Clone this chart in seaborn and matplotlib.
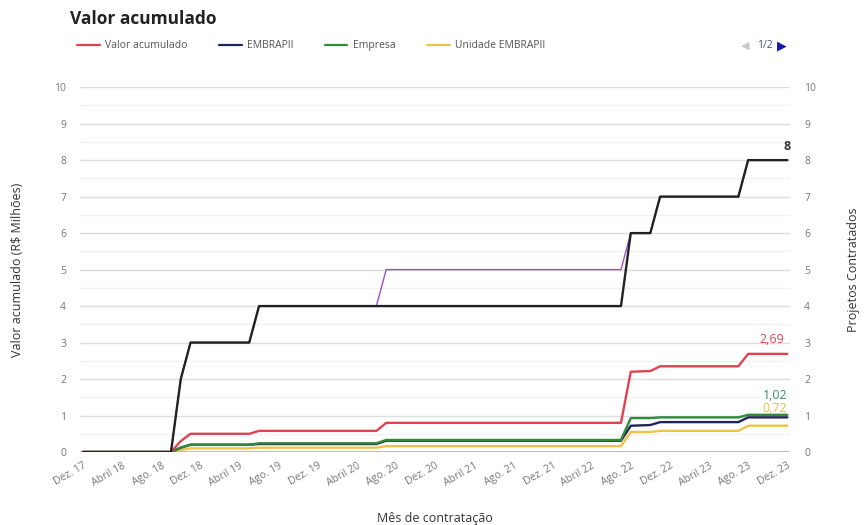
import matplotlib
matplotlib.use("Agg")
import matplotlib.pyplot as plt
import seaborn as sns
import pandas as pd
import numpy as np

# ---- data (change points, months) ----
change_months = ["2017-12", "2018-09", "2018-10", "2018-11", "2019-05", "2019-06",
                 "2020-06", "2020-07", "2022-07", "2022-08", "2022-10", "2022-11",
                 "2023-07", "2023-08", "2023-12"]
valor_acumulado = [0, 0, 0.30, 0.50, 0.50, 0.58, 0.58, 0.80, 0.80, 2.20, 2.22, 2.35, 2.35, 2.69, 2.69]
embrapii        = [0, 0, 0.12, 0.20, 0.20, 0.22, 0.22, 0.31, 0.31, 0.72, 0.74, 0.82, 0.82, 0.95, 0.95]
empresa         = [0, 0, 0.12, 0.20, 0.20, 0.24, 0.24, 0.33, 0.33, 0.93, 0.93, 0.95, 0.95, 1.02, 1.02]
unidade         = [0, 0, 0.06, 0.10, 0.10, 0.12, 0.12, 0.16, 0.16, 0.55, 0.55, 0.58, 0.58, 0.72, 0.72]
projetos        = [0, 0, 2, 3, 3, 4, 4, 4, 4, 6, 6, 7, 7, 8, 8]
projetos_b      = [0, 0, 2, 3, 3, 4, 4, 5, 5, 6, 6, 7, 7, 8, 8]

tick_labels = ["Dez. 17", "Abril 18", "Ago. 18", "Dez. 18", "Abril 19", "Ago. 19", "Dez. 19",
               "Abril 20", "Ago. 20", "Dez. 20", "Abril 21", "Ago. 21", "Dez. 21", "Abril 22",
               "Ago. 22", "Dez. 22", "Abril 23", "Ago. 23", "Dez. 23"]

# ---- prepare ----
per = pd.PeriodIndex(change_months, freq="M")
m = np.array([(p - per[0]).n for p in per])

sns.set_theme(style="white")
plt.rcParams["font.family"] = ["Open Sans", "DejaVu Sans"]

fig = plt.figure(figsize=(8.64, 5.25), dpi=100)
ax = fig.add_axes([0.0926, 0.139, 0.822, 0.695])
ax2 = ax.twinx()

colors = {"Valor acumulado": "#e0434f", "EMBRAPII": "#1f2557", "Empresa": "#2e8b3a",
          "Unidade EMBRAPII": "#f0c24a"}
left_series = {"Valor acumulado": valor_acumulado, "EMBRAPII": embrapii,
               "Empresa": empresa, "Unidade EMBRAPII": unidade}

for name in ["Unidade EMBRAPII", "EMBRAPII", "Empresa", "Valor acumulado"]:
    sns.lineplot(x=m, y=left_series[name], ax=ax, color=colors[name], lw=1.7,
                 sort=False, estimator=None, label=name, legend=False)

sns.lineplot(x=m, y=projetos_b, ax=ax2, color="#a24cc2", lw=1.0, sort=False,
             estimator=None, legend=False)
sns.lineplot(x=m, y=projetos, ax=ax2, color="#222222", lw=1.7, sort=False,
             estimator=None, legend=False)

for a in (ax, ax2):
    a.set_ylim(0, 10)
    a.set_xlim(-0.3, 72.3)
    for s in a.spines.values():
        s.set_visible(False)
    a.set_yticks(range(0, 11))
    a.tick_params(axis="y", length=0, labelsize=7.5, labelcolor="#777777", pad=10)

# grid
for v in np.arange(0.5, 10.5, 0.5):
    if v == int(v):
        ax.axhline(v, color="#dedede", lw=1.0, zorder=0)
    else:
        ax.axhline(v, color="#f2f2f2", lw=1.0, zorder=0)
ax.axhline(0, color="#bdbdbd", lw=1.5, zorder=0.5)

ax.set_xticks(range(0, 73, 4))
ax.set_xticklabels(tick_labels, rotation=30, ha="right", rotation_mode="anchor")
ax.tick_params(axis="x", length=0, labelsize=7.5, labelcolor="#777777", pad=6)

ax.set_xlabel("Mês de contratação", fontsize=9, color="#333333", labelpad=17)
ax.set_ylabel("Valor acumulado (R$ Milhões)", fontsize=9, color="#333333", labelpad=22)
ax2.set_ylabel("Projetos Contratados", fontsize=9, color="#333333", labelpad=22)

# end labels
ax.annotate("2,69", (m[-1], valor_acumulado[-1]), xytext=(-2, 6), textcoords="offset points",
            ha="right", va="bottom", fontsize=9, color="#e0434f")
ax.annotate("1,02", (m[-1], empresa[-1]), xytext=(0, 9), textcoords="offset points",
            ha="right", va="bottom", fontsize=9, color="#3f8f6a")
ax.annotate("0,72", (m[-1], unidade[-1]), xytext=(0, 8), textcoords="offset points",
            ha="right", va="bottom", fontsize=9, color="#e8c13a")
ax2.annotate("8", (m[-1], projetos[-1]), xytext=(0, 5), textcoords="offset points",
             ha="center", va="bottom", fontsize=9, color="#333333", fontweight="bold")

# title & legend
fig.text(0.081, 0.963, "Valor acumulado", fontsize=12.5, fontweight="bold", color="#222222",
         va="center", ha="left")
handles = [plt.Line2D([0], [0], color=colors[n], lw=1.6) for n in left_series]
fig.legend(handles, list(left_series.keys()), loc="center left", bbox_to_anchor=(0.078, 0.913),
           ncol=4, frameon=False, fontsize=7.5, handlelength=2.2, columnspacing=3.0,
           handletextpad=0.5, labelcolor="#555555")
fig.text(0.858, 0.913, "◀", fontsize=8, color="#c8c8c8", va="center", ha="left")
fig.text(0.876, 0.913, "1/2", fontsize=7.5, color="#445577", va="center", ha="left")
fig.text(0.899, 0.913, "▶", fontsize=9, color="#1a1aa8", va="center", ha="left")

fig.savefig("out.png", dpi=100)
